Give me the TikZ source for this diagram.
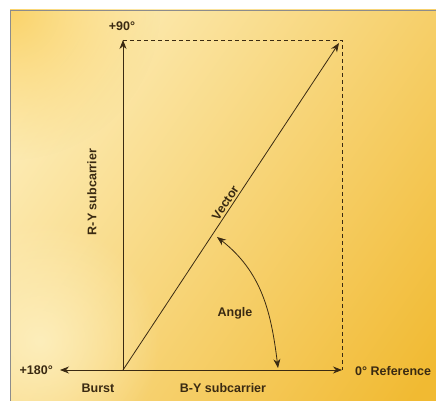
\documentclass[tikz,border=0pt]{standalone}
\usepackage{fontspec}
\setmainfont{Liberation Sans}
\usepackage{tikz}
\usetikzlibrary{positioning,arrows.meta,calc,fadings}
\definecolor{ink}{HTML}{3A2A12}
\definecolor{paleyel}{HTML}{FEF2C6}
\definecolor{deepyel}{HTML}{F1BA32}
\definecolor{cornyel}{HTML}{FAD36A}
\definecolor{framegray}{HTML}{8C8C8C}
\tikzfading[name=cornerfade, inner color=transparent!0, outer color=transparent!100]

\begin{document}
\begin{tikzpicture}[x=1pt,y=1pt,
    axis/.style={ink, line width=0.8pt, -{Stealth[length=9pt,width=7pt]}},
    guide/.style={ink, line width=0.7pt, dash pattern=on 4pt off 3pt},
    lbl/.style={font=\bfseries\fontsize{12.5pt}{14pt}\selectfont, text=ink, inner sep=1pt},
  ]
    \useasboundingbox (0,0) rectangle (436,401);
    \fill[white] (0,0) rectangle (436,401);
    % background
    \begin{scope}
      \clip (10,0) rectangle (436,391);
      \shade[shading=axis, top color=paleyel, bottom color=deepyel, shading angle=55] (-60,-60) rectangle (500,460);
      \fill[cornyel, path fading=cornerfade] (10,391) circle (150);
      \fill[paleyel, path fading=cornerfade, opacity=0.8] (40,60) circle (120);
    \end{scope}
    \draw[framegray, line width=0.6pt] (10,0) -- (10,391) -- (436,391);
    \coordinate (O) at (123,31);
    \coordinate (top) at (123,361);
    \coordinate (corner) at (342,361);
    \coordinate (tip) at (339,358);
    \coordinate (right) at (342,31);
    \coordinate (left) at (60,31);
    \coordinate (alo) at (278,33);
    \coordinate (ahi) at (217,164);
    \draw[guide] (top) -- (corner) -- (right);
    \draw[axis] (O) -- (top);
    \draw[axis] (O) -- (right);
    \draw[axis] (O) -- (left);
    \draw[axis] (O) -- node[lbl, pos=0.5, sloped, above=1pt] (vec) {Vector} (tip);
    \draw[ink, line width=0.8pt, {Stealth[length=9pt,width=7pt]}-{Stealth[length=9pt,width=7pt]}] (ahi) to[out=-38, in=97] (alo);
    \node[lbl] (p90) at (122,375) {+90\textdegree};
    \node[lbl, anchor=east] (p180) at (54,31) {+180\textdegree};
    \node[lbl, anchor=west] (ref) at (354,30) {0\textdegree\ Reference};
    \node[lbl] (burst) at (98,13) {Burst};
    \node[lbl] (by) at (223,13) {B-Y subcarrier};
    \node[lbl, rotate=90] (ry) at (92,209) {R-Y subcarrier};
    \node[lbl] (ang) at (235,88) {Angle};
\end{tikzpicture}
\end{document}
